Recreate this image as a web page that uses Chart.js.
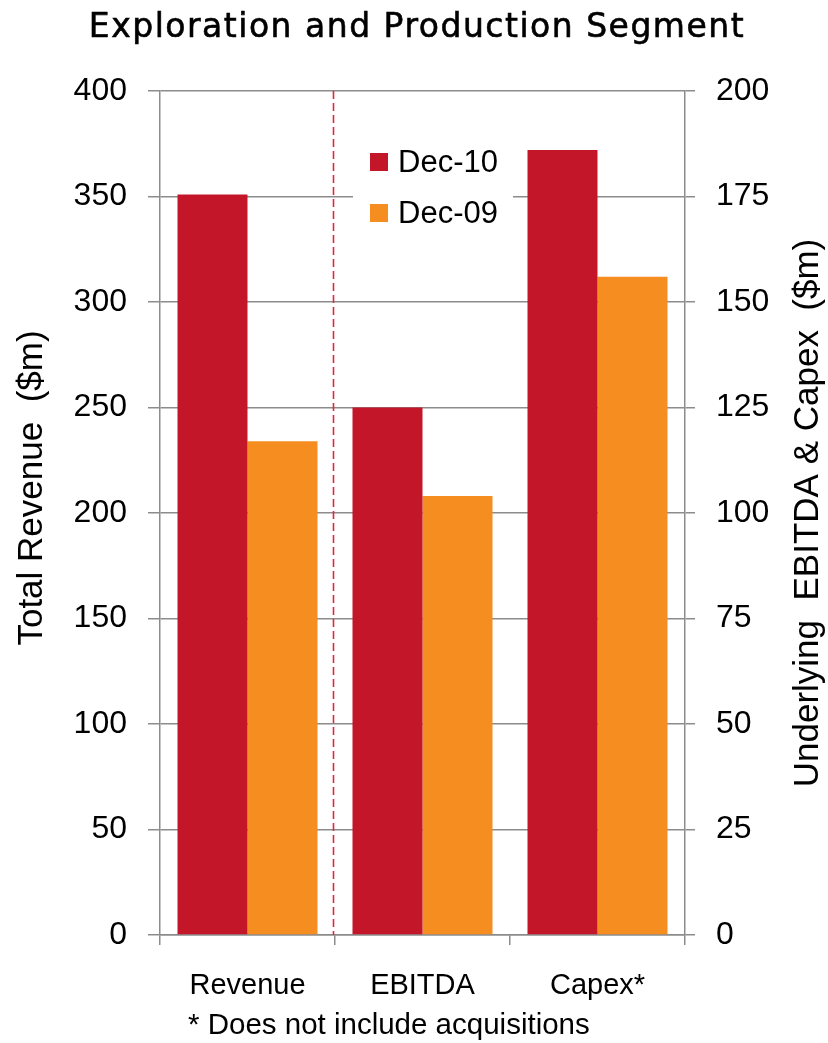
<!DOCTYPE html>
<html>
<head>
<meta charset="utf-8">
<script src="https://cdn.jsdelivr.net/npm/chart.js@4.4.1/dist/chart.umd.min.js"></script>
<style>
  html, body { margin: 0; padding: 0; background: #fff; }
  #wrap { width: 828px; height: 1043px; position: relative; }
</style>
</head>
<body>
<div id="wrap"><canvas id="c"></canvas></div>
<script>
// Segment figures
const categories = ['Revenue', 'EBITDA', 'Capex*'];
// value axis each category is read against
const categoryAxis = ['left', 'right', 'right'];
const dec10 = [351, 125, 186];
const dec09 = [234, 104, 156];
const seriesNames = ['Dec-10', 'Dec-09'];
const seriesColors = ['#C41629', '#F58D21'];

const titleText = 'Exploration and Production Segment';
const footnoteText = '* Does not include acquisitions';
const leftAxisTitle = 'Total Revenue  ($m)';
const rightAxisTitle = 'Underlying  EBITDA & Capex  ($m)';

const GRID = '#8c8c8c';
const SANS = "'Liberation Sans', Arial, sans-serif";

function onSide(values, side) {
  return values.map((v, i) => (categoryAxis[i] === side ? v : null));
}

const datasets = [];
[dec10, dec09].forEach((vals, s) => {
  ['left', 'right'].forEach(side => {
    datasets.push({
      label: seriesNames[s],
      data: onSide(vals, side),
      yAxisID: side === 'left' ? 'yL' : 'yR',
      backgroundColor: seriesColors[s],
      borderWidth: 0,
      categoryPercentage: 0.8,
      barPercentage: 1.0,
      skipNull: true
    });
  });
});

// dashed divider between the revenue group and the right-axis groups
const dividerPlugin = {
  id: 'divider',
  afterDatasetsDraw(chart) {
    const { ctx, chartArea } = chart;
    const xs = chart.scales.x;
    const x = Math.round((xs.getPixelForValue(0) + xs.getPixelForValue(1)) / 2) - 1.5;
    ctx.save();
    ctx.strokeStyle = '#E0283C';
    ctx.lineWidth = 1.6;
    ctx.setLineDash([8, 4]);
    ctx.beginPath();
    ctx.moveTo(x, chartArea.top);
    ctx.lineTo(x, chartArea.bottom);
    ctx.stroke();
    ctx.restore();
  }
};

// heading, boxed legend inside the plot, rotated axis titles and the footnote
const decorPlugin = {
  id: 'decor',
  afterDraw(chart) {
    const { ctx, chartArea } = chart;
    ctx.save();
    // heading
    ctx.fillStyle = '#000';
    ctx.strokeStyle = '#000';
    ctx.lineWidth = 0.6;
    ctx.font = "33px 'DejaVu Sans', sans-serif";
    ctx.letterSpacing = '1.5px';
    ctx.textAlign = 'center';
    ctx.textBaseline = 'alphabetic';
    ctx.fillText(titleText, 417, 37);
    ctx.strokeText(titleText, 417, 37);
    ctx.letterSpacing = '0px';
    // legend
    const lx = chartArea.left + 193, ly = chartArea.top + 50;
    ctx.fillStyle = '#fff';
    ctx.fillRect(lx, ly, 160, 100);
    seriesNames.forEach((name, i) => {
      const cy = ly + 21 + i * 51;
      ctx.fillStyle = seriesColors[i];
      ctx.fillRect(lx + 17, cy - 9, 18, 18);
      ctx.fillStyle = '#000';
      ctx.font = '31px ' + SANS;
      ctx.textAlign = 'left';
      ctx.textBaseline = 'middle';
      ctx.fillText(name, lx + 45, cy + 1);
    });
    // footnote
    ctx.font = '29.5px ' + SANS;
    ctx.textAlign = 'left';
    ctx.textBaseline = 'alphabetic';
    ctx.fillText(footnoteText, 188, 1034);
    // axis titles
    ctx.font = '35px ' + SANS;
    ctx.textAlign = 'center';
    ctx.translate(42, 488);
    ctx.rotate(-Math.PI / 2);
    ctx.fillText(leftAxisTitle, 0, 0);
    ctx.setTransform(1, 0, 0, 1, 0, 0);
    ctx.translate(818, 513);
    ctx.rotate(-Math.PI / 2);
    ctx.fillText(rightAxisTitle, 0, 0);
    ctx.restore();
  }
};

new Chart(document.getElementById('c'), {
  type: 'bar',
  data: { labels: categories, datasets },
  options: {
    responsive: true,
    maintainAspectRatio: false,
    animation: false,
    layout: { padding: { top: 91, bottom: 37.4 } },
    plugins: {
      legend: { display: false },
      tooltip: { enabled: false },
      title: { display: false }
    },
    scales: {
      x: {
        grid: { drawOnChartArea: false, offset: true, tickLength: 10, color: GRID, lineWidth: 1.5 },
        border: { color: GRID, width: 1.5 },
        ticks: { color: '#000', font: { family: SANS, size: 29 }, padding: 24, maxRotation: 0 },
        afterFit(s) { s.height = 70.6; }
      },
      yL: {
        position: 'left',
        min: 0, max: 400,
        ticks: { stepSize: 50, color: '#000', font: { family: SANS, size: 32 }, padding: 21 },
        grid: { color: GRID, lineWidth: 1.5, tickLength: 12 },
        border: { color: GRID, width: 1.5 },
        afterFit(s) { s.width = 160; }
      },
      yR: {
        position: 'right',
        min: 0, max: 200,
        ticks: { stepSize: 25, color: '#000', font: { family: SANS, size: 32 }, padding: 21 },
        grid: { drawOnChartArea: false, color: GRID, lineWidth: 1.5, tickLength: 10 },
        border: { color: GRID, width: 1.5 },
        afterFit(s) { s.width = 143; }
      }
    }
  },
  plugins: [dividerPlugin, decorPlugin]
});
</script>
</body>
</html>
